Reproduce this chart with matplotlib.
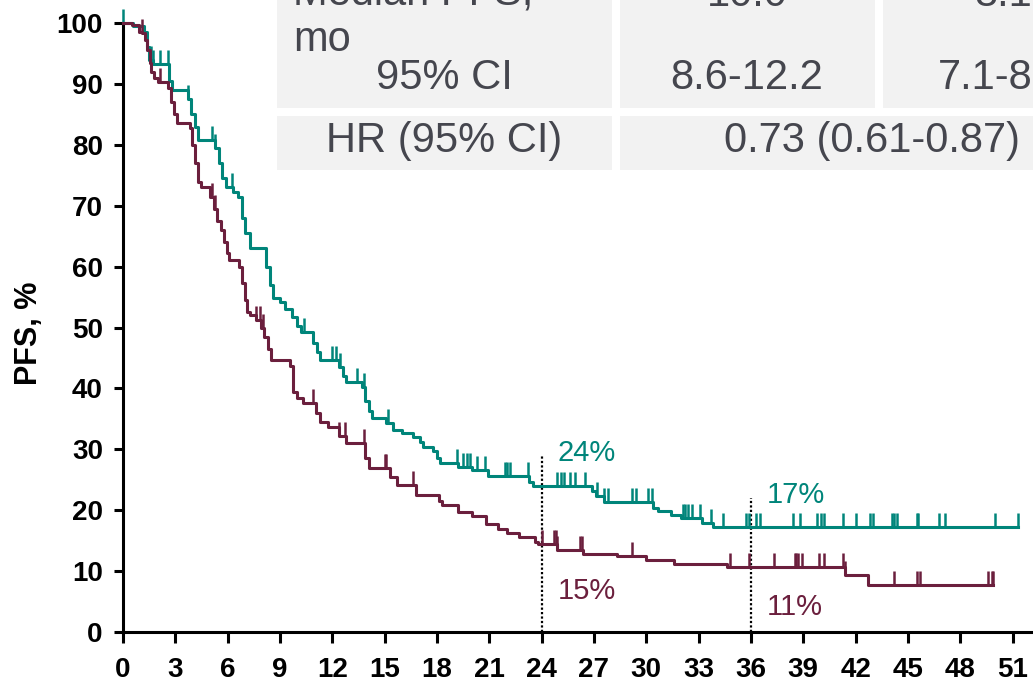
import numpy as np
import matplotlib
matplotlib.use("Agg")
import matplotlib.pyplot as plt
from matplotlib.patches import Rectangle

plt.rcParams['font.family'] = ['Liberation Sans', 'DejaVu Sans']

TEAL = "#00857a"
MAROON = "#6b1f3d"
TABLE_BG = "#f2f2f2"
TABLE_TXT = "#45464e"

# Kaplan-Meier steps (months, PFS %)
teal_t = [0, 0.6, 1.2, 1.4, 1.5, 1.7, 2.65, 2.8, 3.7, 3.9, 4.1, 4.3, 5.3, 5.5, 5.7, 5.9,
          6.3, 6.6, 6.8, 7.0, 7.3, 8.2, 8.4, 8.6, 9.0, 9.3, 9.7, 10.0, 10.2, 10.9, 11.1,
          11.3, 12.4, 12.6, 12.8, 13.7, 13.9, 14.1, 14.3, 15.1, 15.5, 16.0, 16.6, 17.0,
          17.2, 17.8, 18.0, 18.2, 19.2, 20.0, 20.9, 23.3, 23.5, 26.9, 27.1, 27.6, 30.4,
          30.7, 31.4, 32.0, 33.2, 33.8, 51.3]
teal_s = [100, 99.5, 98.5, 96, 94, 93.2, 90.5, 89, 87.6, 85, 83, 80.8, 79.4, 77, 74.5, 73,
          72.2, 71.4, 68, 65.5, 63, 60, 57, 54.8, 54.2, 53, 51.7, 50.3, 49.3, 47.5, 46,
          44.7, 43.5, 42, 41.1, 40.2, 38, 36.3, 35.1, 34.3, 33.2, 32.6, 32.0, 31.2,
          30.4, 29.8, 28.5, 27.7, 27.1, 26.6, 25.6, 24.7, 23.9, 23.2, 22.4, 21.4, 20.4,
          19.8, 19.2, 18.7, 17.95, 17.3, 17.3]
teal_cens = [0, 1.4, 1.5, 1.6, 1.7, 2.1, 2.6, 3.7, 5.1, 5.3, 6.25, 10.4, 12.0, 12.2, 12.45,
             13.4, 13.8, 15.2, 19.15, 19.5, 19.7, 19.9, 20.3, 20.75, 21.9, 22.0, 22.2, 23.2,
             24.9, 25.1, 25.3, 25.6, 25.9, 26.5, 27.2, 27.6, 27.8, 29.2, 29.4, 30.1, 30.3,
             32.1, 32.2, 32.4, 32.6, 33.1, 33.7, 34.4, 35.7, 35.9, 36.3, 36.5, 38.4, 38.8,
             39.8, 40.0, 40.2, 41.3, 42.0, 42.8, 43.0, 44.1, 44.2, 44.4, 45.5, 45.6, 46.8,
             47.1, 50.0, 51.3]

maroon_t = [0, 0.5, 0.9, 1.1, 1.25, 1.4, 1.55, 1.6, 1.75, 2.0, 2.6, 2.75, 2.9, 3.1, 3.85,
            3.95, 4.1, 4.3, 4.5, 5.0, 5.2, 5.4, 5.6, 5.8, 5.95, 6.1, 6.65, 6.8, 7.0, 7.1,
            7.3, 7.6, 7.9, 8.1, 8.3, 8.5, 9.6, 9.75, 10.0, 10.3, 11.05, 11.3, 11.75, 12.4,
            12.8, 13.9, 14.1, 15.3, 15.7, 16.8, 18.1, 18.3, 19.2, 20.0, 20.8, 21.5, 22.0,
            22.7, 23.6, 23.8, 24.9, 26.4, 28.3, 30.0, 31.6, 34.6, 41.4, 42.7, 49.9]
maroon_s = [100, 99.7, 98.6, 98.3, 97.2, 95.5, 93.4, 92, 90.9, 90.3, 89.3, 87, 85, 83.6,
            82.8, 80, 77, 73.9, 73, 71.4, 69.5, 67.5, 66, 64, 62.2, 61.1, 60.0, 57.3, 54.5,
            52.5, 52.0, 51.2, 49.9, 48.5, 46.5, 44.7, 43.6, 39.4, 38.5, 37.6, 36.0, 34.5,
            33.7, 32.2, 31.0, 28.5, 26.9, 25.5, 24.1, 22.5, 21.5, 20.8, 19.7, 19.0, 17.8,
            16.9, 16.2, 15.65, 14.8, 14.45, 13.5, 12.8, 12.4, 11.8, 11.2, 10.7, 9.36, 7.7,
            7.7]
maroon_cens = [1.1, 2.1, 5.1, 5.3, 7.6, 7.85, 8.0, 10.9, 12.4, 12.7, 13.8, 15.0, 15.1,
               16.6, 24.0, 24.7, 24.8, 24.9, 26.2, 26.3, 29.2, 34.8, 35.9, 37.3, 38.5,
               38.6, 38.7, 38.9, 39.9, 40.2, 41.3, 41.4, 44.2, 45.5, 45.7, 49.6, 49.8, 49.9]

x_ticks = list(range(0, 52, 3))
y_ticks = list(range(0, 101, 10))

landmarks = [24, 36]
teal_labels = ["24%", "17%"]
maroon_labels = ["15%", "11%"]

W, H = 1033, 688


def fx(px):
    return px / W


def fy(py):
    return 1 - py / H


def step_value(times, surv, c):
    i = np.searchsorted(times, c, side='right') - 1
    return surv[max(i, 0)]


def km_plot():
    fig = plt.figure(figsize=(W / 100, H / 100), dpi=100)
    ax = fig.add_axes([fx(123), fy(632), fx(1033 - 123), (632 - 23) / H])

    for times, surv, cens, col in [(teal_t, teal_s, teal_cens, TEAL),
                                   (maroon_t, maroon_s, maroon_cens, MAROON)]:
        ax.plot(times, surv, drawstyle='steps-post', color=col, lw=2.2,
                clip_on=False, zorder=3)
        lo = [step_value(times, surv, c) for c in cens]
        ax.vlines(cens, lo, [v + 2.3 for v in lo], color=col, lw=1.8,
                  clip_on=False, zorder=3)

    # landmark dotted lines
    ax.vlines(landmarks, 0, [29, 22], color='black', lw=1.6,
              linestyles=(0, (1, 1)), zorder=2)
    for t, lab, yy in zip(landmarks, teal_labels, [29.4, 22.5]):
        ax.text(t + 0.9, yy, lab, color=TEAL, fontsize=21, va='center', ha='left')
    for t, lab, yy in zip(landmarks, maroon_labels, [6.7, 4.1]):
        ax.text(t + 0.9, yy, lab, color=MAROON, fontsize=21, va='center', ha='left')

    ax.set_xlim(0, 52.17)
    ax.set_ylim(0, 100)
    ax.set_xticks(x_ticks)
    ax.set_yticks(y_ticks)
    for s in ['top', 'right']:
        ax.spines[s].set_visible(False)
    for s in ['left', 'bottom']:
        ax.spines[s].set_linewidth(2.2)
    ax.tick_params(axis='y', length=6.5, width=2.2, pad=8, labelsize=20)
    ax.tick_params(axis='x', length=8, width=2.2, pad=10, labelsize=20)
    for lab in ax.get_xticklabels() + ax.get_yticklabels():
        lab.set_fontweight('bold')

    fig.text(fx(29), fy(333), "PFS, %", rotation=90, fontsize=22, fontweight='bold',
             ha='center', va='center')

    # summary table (top part cut off in the original)
    cells = [(277, -30, 612, 108), (620, -30, 875, 108), (883, -30, 1140, 108),
             (277, 116, 612, 170), (620, 116, 1140, 170)]
    for x0, y0, x1, y1 in cells:
        fig.patches.append(Rectangle((fx(x0), fy(y1)), fx(x1 - x0), (y1 - y0) / H,
                                     transform=fig.transFigure, facecolor=TABLE_BG,
                                     edgecolor='none', zorder=5))
    tk = dict(fontsize=30, color=TABLE_TXT, va='center', zorder=6)
    fig.text(fx(293), fy(-7), "Median PFS,", ha='left', **tk)
    fig.text(fx(293), fy(40), "mo", ha='left', **tk)
    fig.text(fx(444), fy(78), "95% CI", ha='center', **tk)
    fig.text(fx(747), fy(-5), "10.0", ha='center', **tk)
    fig.text(fx(747), fy(78), "8.6-12.2", ha='center', **tk)
    fig.text(fx(1003), fy(-5), "8.1", ha='center', **tk)
    fig.text(fx(1003), fy(78), "7.1-8.9", ha='center', **tk)
    fig.text(fx(444), fy(141), "HR (95% CI)", ha='center', **tk)
    fig.text(fx(872), fy(141), "0.73 (0.61-0.87)", ha='center', **tk)

    fig.savefig("out.png", dpi=100)


if __name__ == '__main__':
    km_plot()
